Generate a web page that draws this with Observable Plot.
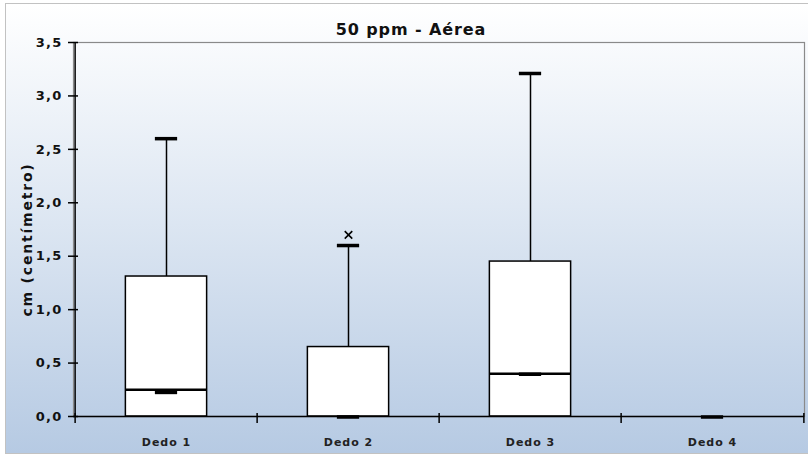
<!DOCTYPE html>
<html><head><meta charset="utf-8">
<script src="https://cdn.jsdelivr.net/npm/d3@7"></script>
<script src="https://cdn.jsdelivr.net/npm/@observablehq/plot@0.6"></script>
<style>
body{margin:0;background:#fff;}
#wrap{position:relative;width:808px;height:456px;overflow:hidden;}
#bg{position:absolute;left:5px;top:3px;width:812px;height:449px;border:1.5px solid #c2c2c2;background:linear-gradient(#ffffff 0%, #dfe8f3 45%, #b6cae3 100%);}
#chart{position:absolute;left:0;top:0;}
</style></head>
<body><div id="wrap"><div id="bg"></div><div id="chart"></div></div>
<script>
const categories = ["Dedo 1", "Dedo 2", "Dedo 3", "Dedo 4"];
const q1Values = [0, 0, 0, 0];
const q3Values = [1.31, 0.65, 1.45, 0];
const medianValues = [0.25, 0, 0.40, 0];
const maxValues = [2.60, 1.60, 3.21, 0];
const meanValues = [0.23, 0, 0.40, 0];
const outlierCategories = ["Dedo 2"];
const outlierValues = [1.70];
const yTicks = [0, 0.5, 1, 1.5, 2, 2.5, 3, 3.5];
const yTickLabels = ["0,0", "0,5", "1,0", "1,5", "2,0", "2,5", "3,0", "3,5"];
const chartTitle = "50 ppm - Aérea";
const yTitle = "cm (centímetro)";

const W = 808, H = 456, ML = 73, MR = 4, MT = 42, MB = 40;
const frameW = W - ML - MR, frameH = H - MT - MB;
const bw = frameW / categories.length;
const boxInset = (bw - 82) / 2;
const capInset = (bw - 23) / 2;

const boxes = categories.map((c, i) => ({
  cat: c, q1: q1Values[i], q3: q3Values[i], median: medianValues[i],
  max: maxValues[i], mean: meanValues[i]
}));
const outliers = outlierCategories.map((c, i) => ({cat: c, v: outlierValues[i]}));
const font = "DejaVu Sans";

const chart = Plot.plot({
  width: W, height: H,
  marginLeft: ML, marginRight: MR, marginTop: MT, marginBottom: MB,
  style: {background: "transparent", fontFamily: font},
  x: {type: "band", domain: categories, padding: 0, axis: null},
  y: {domain: [0, 3.5], axis: null},
  marks: [
    Plot.frame({stroke: "#8a8a8a", strokeWidth: 1.2}),
    Plot.ruleX(boxes.filter(d => d.max > d.q3), {x: "cat", y1: "q3", y2: "max", stroke: "black", strokeWidth: 1.5}),
    Plot.rectY(boxes.filter(d => d.q3 > d.q1), {x: "cat", y1: "q1", y2: "q3", fill: "white", stroke: "black", strokeWidth: 1.5, insetLeft: boxInset, insetRight: boxInset}),
    Plot.tickY(boxes.filter(d => d.median > d.q1), {x: "cat", y: "median", stroke: "black", strokeWidth: 2.5, insetLeft: boxInset, insetRight: boxInset}),
    Plot.tickY(boxes.filter(d => d.max > d.q3), {x: "cat", y: "max", stroke: "black", strokeWidth: 3.5, insetLeft: capInset, insetRight: capInset}),
    Plot.dot(outliers, {x: "cat", y: "v", symbol: "times", r: 3.5, stroke: "black", strokeWidth: 1.6}),
    // axis lines
    Plot.ruleY([0], {stroke: "black", strokeWidth: 1.5}),
    Plot.ruleX([categories[0]], {x: d => d, dx: -bw / 2, stroke: "black", strokeWidth: 1.5}),
    // y ticks crossing the axis
    Plot.tickY(yTicks, {y: d => d, stroke: "black", strokeWidth: 1.5, insetLeft: -5, insetRight: frameW - 5}),
    // x boundary ticks
    Plot.ruleX(categories, {x: d => d, dx: -bw / 2, stroke: "black", strokeWidth: 1.5, insetTop: frameH - 3, insetBottom: -7}),
    Plot.ruleX([categories[categories.length - 1]], {x: d => d, dx: bw / 2, stroke: "black", strokeWidth: 1.5, insetTop: frameH - 3, insetBottom: -7}),
    // mean markers drawn above axis lines
    Plot.tickY(boxes, {x: "cat", y: "mean", stroke: "black", strokeWidth: 3.5, insetLeft: capInset, insetRight: capInset, dy: 0.5}),
    // labels
    Plot.text(yTicks, {y: d => d, text: (d, i) => yTickLabels[i], frameAnchor: "left", dx: -11, textAnchor: "end", lineAnchor: "middle", fontSize: 13, fontWeight: "bold", fill: "#111"}),
    Plot.text(categories, {x: d => d, text: d => d, frameAnchor: "bottom", dy: 26, lineAnchor: "middle", textAnchor: "middle", fontSize: 11, fontWeight: "bold", fill: "#222"}),
    Plot.text([chartTitle], {text: d => d, frameAnchor: "top", dx: -28, dy: -13, lineAnchor: "middle", textAnchor: "middle", fontSize: 16, fontWeight: "bold", fill: "#111"}),
    Plot.text([yTitle], {text: d => d, frameAnchor: "left", dx: -46, dy: 10, rotate: -90, textAnchor: "middle", lineAnchor: "middle", fontSize: 14, fontWeight: "bold", fill: "#111"})
  ]
});
const svg = d3.select(chart);
svg.selectAll("text").each(function () {
  const t = this.textContent;
  let ls = null;
  if (yTickLabels.includes(t)) ls = "1.2px";
  else if (categories.includes(t)) ls = "1px";
  else if (t === chartTitle) ls = "0.9px";
  else if (t === yTitle) ls = "1.8px";
  if (ls) this.style.letterSpacing = ls;
});
document.getElementById("chart").appendChild(chart);
</script>
</body></html>
